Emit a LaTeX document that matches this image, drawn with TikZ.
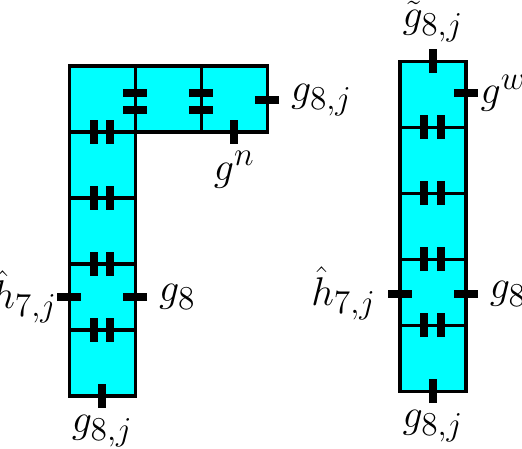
\documentclass[tikz,border=0pt]{standalone}
\usepackage{amsmath,amssymb}
\usetikzlibrary{calc}
\definecolor{cellcyan}{RGB}{0,255,255}

\begin{document}
\begin{tikzpicture}[
		cell/.style={draw=black,fill=cellcyan,line width=1.4pt},
		tck/.style={line width=3.4pt},
		lab/.style={font=\fontsize{19}{23}\selectfont,inner sep=5pt}]
			\useasboundingbox (0,0) rectangle (7.91,-6.79);
			\coordinate (L) at (1.05,-1);
			\coordinate (R) at (6.06,-0.93);
			\foreach \i in {0,1,2}
				\draw[cell] ($(L)+(\i,0)$) rectangle ++(1,-1);
			\foreach \i in {1,...,4}
				\draw[cell] ($(L)+(0,-\i)$) rectangle ++(1,-1);
			\foreach \i in {0,...,4}
				\draw[cell] ($(R)+(0,-\i)$) rectangle ++(1,-1);
			\foreach \i in {1,...,4} {
				\draw[tck] ($(L)+(0.37,-\i-0.18)$) -- ++(0,0.36);
				\draw[tck] ($(L)+(0.62,-\i-0.18)$) -- ++(0,0.36);
				\draw[tck] ($(R)+(0.37,-\i-0.18)$) -- ++(0,0.36);
				\draw[tck] ($(R)+(0.62,-\i-0.18)$) -- ++(0,0.36);
			}
			\foreach \i in {1,2} {
				\draw[tck] ($(L)+(\i-0.18,-0.41)$) -- ++(0.36,0);
				\draw[tck] ($(L)+(\i-0.18,-0.67)$) -- ++(0.36,0);
			}
			\coordinate (Ln) at ($(L)+(2.5,-1.18)$);
			\coordinate (Le) at ($(L)+(3.18,-0.52)$);
			\coordinate (Lw) at ($(L)+(-0.18,-3.5)$);
			\coordinate (Lg) at ($(L)+(1.18,-3.5)$);
			\coordinate (Ls) at ($(L)+(0.5,-5.18)$);
			\draw[tck] (Ln) -- ++(0,0.36);
			\draw[tck] (Le) -- ++(-0.36,0);
			\draw[tck] (Lw) -- ++(0.36,0);
			\draw[tck] (Lg) -- ++(-0.36,0);
			\draw[tck] (Ls) -- ++(0,0.36);
			\coordinate (Rt) at ($(R)+(0.5,0.18)$);
			\coordinate (Re) at ($(R)+(1.18,-0.48)$);
			\coordinate (Rw) at ($(R)+(-0.18,-3.52)$);
			\coordinate (Rg) at ($(R)+(1.18,-3.52)$);
			\coordinate (Rs) at ($(R)+(0.5,-5.18)$);
			\draw[tck] (Rt) -- ++(0,-0.36);
			\draw[tck] (Re) -- ++(-0.36,0);
			\draw[tck] (Rw) -- ++(0.36,0);
			\draw[tck] (Rg) -- ++(-0.36,0);
			\draw[tck] (Rs) -- ++(0,0.36);
			\node[lab,inner sep=3pt] (gn) at (Ln) [below]{$g^n$};
			\node[lab] (ge) at (Le) [right]{$g_{8,j}$};
			\node[lab,inner sep=0pt] (hl) at (Lw) [left]{$\hat{h}_{7,j}$};
			\node[lab] (gl) at (Lg) [right]{$g_8$};
			\node[lab,inner sep=3pt] (gs) at (Ls) [below]{$g_{8,j}$};
			\node[lab,inner sep=3pt] (gt) at (Rt) [above]{$\tilde{g}_{8,j}$};
			\node[lab,inner sep=1pt] (gw) at (Re) [right]{$g^w$};
			\node[lab] (hr) at (Rw) [left]{$\hat{h}_{7,j}$};
			\node[lab] (gr) at (Rg) [right]{$g_8$};
			\node[lab,inner sep=3pt] (gb) at (Rs) [below]{$g_{8,j}$};
		\end{tikzpicture}
\end{document}
